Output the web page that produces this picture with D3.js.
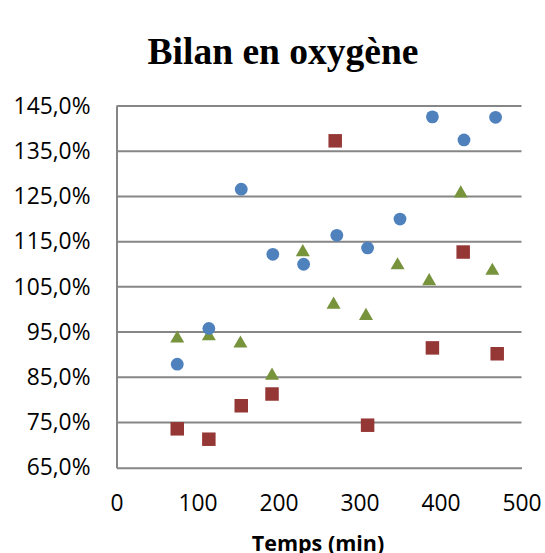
<!DOCTYPE html>
<html>
<head>
<meta charset="utf-8">
<script src="https://cdn.jsdelivr.net/npm/d3@7"></script>
<style>
  html, body { margin: 0; padding: 0; background: #fff; }
  svg { display: block; }
</style>
</head>
<body>
<div id="chart"></div>
<script>
// ---- Data ----
const title = "Bilan en oxygène";
const xTitle = "Temps (min)";
const xTicks = [0, 100, 200, 300, 400, 500];
const yTicks = [65, 75, 85, 95, 105, 115, 125, 135, 145];

const blueX = [75, 114, 154, 193, 231, 272, 310, 350, 390, 429, 468];
const blueY = [87.9, 95.8, 126.6, 112.2, 110.0, 116.4, 113.6, 120.0, 142.6, 137.5, 142.5];

const redX = [75, 114, 154, 192, 270, 310, 390, 428, 470];
const redY = [73.6, 71.3, 78.7, 81.3, 137.3, 74.4, 91.5, 112.7, 90.2];

const greenX = [75, 114, 153, 192, 230, 268, 308, 347, 386, 425, 464];
const greenY = [93.9, 94.4, 92.8, 85.7, 113.0, 101.4, 98.9, 110.1, 106.6, 126.0, 108.9];

const zip = (xs, ys) => xs.map((x, i) => ({x, y: ys[i]}));

// ---- Layout ----
const W = 545, H = 553;
const margin = {left: 116.5, right: W - 521.5, top: 106, bottom: H - 467.7};

const svg = d3.select("#chart").append("svg")
  .attr("width", W).attr("height", H);

const x = d3.scaleLinear().domain([0, 500]).range([margin.left, W - margin.right]);
const y = d3.scaleLinear().domain([65, 145]).range([H - margin.bottom, margin.top]);

const gridColor = "#868686";
const fontFam = "'Open Sans', 'DejaVu Sans', sans-serif";

// gridlines
svg.append("g").selectAll("line").data(yTicks.filter(d => d !== 65)).join("line")
  .attr("x1", x(0)).attr("x2", x(500))
  .attr("y1", d => y(d)).attr("y2", d => y(d))
  .attr("stroke", gridColor).attr("stroke-width", 2);

// y axis
const yAxis = d3.axisLeft(y).tickValues(yTicks).tickSize(0).tickPadding(26)
  .tickFormat(d => d3.format(".1f")(d).replace(".", ",") + "%");
const gy = svg.append("g").attr("transform", `translate(${x(0)},0)`).call(yAxis);
gy.select(".domain").attr("stroke", gridColor).attr("stroke-width", 2);
gy.selectAll("text").attr("font-family", fontFam).attr("font-size", 22.8).attr("fill", "#000");

// x axis
const xAxis = d3.axisBottom(x).tickValues(xTicks).tickSize(0).tickPadding(27)
  .tickFormat(d3.format("d"));
const gx = svg.append("g").attr("transform", `translate(0,${y(65)})`).call(xAxis);
gx.select(".domain").attr("stroke", gridColor).attr("stroke-width", 2);
gx.selectAll("text").attr("font-family", fontFam).attr("font-size", 22.8).attr("fill", "#000");

// title
svg.append("text").attr("x", 283).attr("y", 64.3)
  .attr("text-anchor", "middle")
  .attr("font-family", "'Liberation Serif', 'Times New Roman', serif")
  .attr("font-weight", "bold").attr("font-size", 37.5).attr("fill", "#000")
  .text(title);

// x title
svg.append("text").attr("x", 318).attr("y", 551)
  .attr("text-anchor", "middle")
  .attr("font-family", fontFam)
  .attr("font-weight", "bold").attr("font-size", 21.5).attr("fill", "#000")
  .text(xTitle);

// series
const sym = (type, size) => d3.symbol().type(type).size(size)();

svg.append("g").selectAll("path").data(zip(greenX, greenY)).join("path")
  .attr("transform", d => `translate(${x(d.x)},${y(d.y)+1.5})`)
  .attr("d", sym(d3.symbolTriangle, 85))
  .attr("fill", "#77933C");

svg.append("g").selectAll("path").data(zip(redX, redY)).join("path")
  .attr("transform", d => `translate(${x(d.x)},${y(d.y)})`)
  .attr("d", sym(d3.symbolSquare, 182))
  .attr("fill", "#953735");

svg.append("g").selectAll("circle").data(zip(blueX, blueY)).join("circle")
  .attr("cx", d => x(d.x)).attr("cy", d => y(d.y)).attr("r", 6.4)
  .attr("fill", "#4F81BD");
</script>
</body>
</html>
